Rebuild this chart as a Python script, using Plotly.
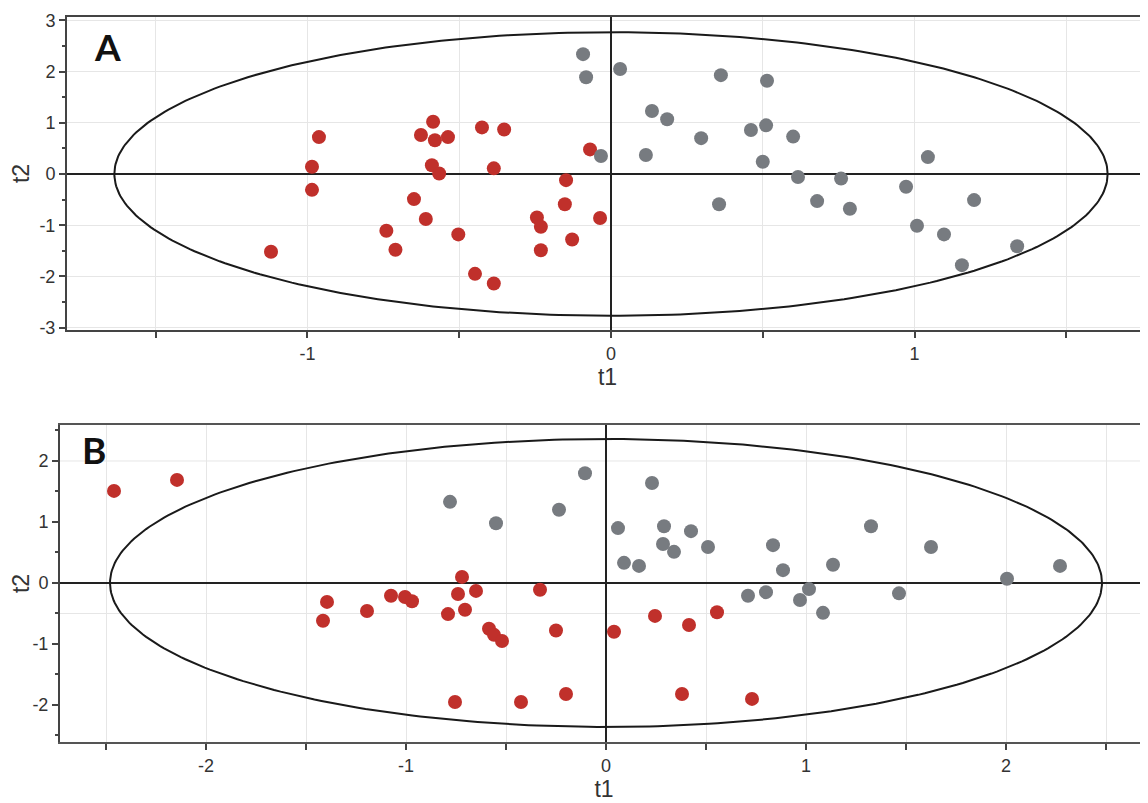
import numpy as np
import plotly.graph_objects as go

# ---------------- Data ----------------
# Panel A
a_red_t1 = [-0.962, -0.985, -0.985, -0.74, -0.71, -1.12, -0.586, -0.626, -0.58, -0.537,
            -0.425, -0.352, -0.069, -0.59, -0.566, -0.386, -0.148, -0.649, -0.61, -0.503,
            -0.152, -0.244, -0.231, -0.036, -0.128, -0.231, -0.448, -0.386]
a_red_t2 = [0.72, 0.14, -0.31, -1.11, -1.48, -1.52, 1.02, 0.76, 0.66, 0.72,
            0.91, 0.87, 0.48, 0.17, 0.01, 0.11, -0.12, -0.49, -0.88, -1.18,
            -0.59, -0.85, -1.03, -0.86, -1.28, -1.49, -1.95, -2.14]
a_gray_t1 = [-0.092, -0.082, 0.03, -0.033, 0.135, 0.185, 0.115, 0.297, 0.362, 0.356,
             0.461, 0.511, 0.514, 0.50, 0.60, 0.616, 0.758, 0.679, 0.787, 0.972,
             1.044, 1.008, 1.097, 1.196, 1.156, 1.338]
a_gray_t2 = [2.34, 1.89, 2.05, 0.35, 1.23, 1.07, 0.37, 0.70, 1.93, -0.59,
             0.86, 0.95, 1.82, 0.24, 0.73, -0.06, -0.09, -0.53, -0.68, -0.25,
             0.33, -1.01, -1.18, -0.51, -1.78, -1.41]
a_ellipse = (1.636, 2.77)   # semi-axes of the confidence ellipse (t1, t2)

# Panel B
b_red_t1 = [-2.46, -2.145, -1.395, -1.415, -1.195, -1.075, -1.005, -0.97, -0.72, -0.74,
            -0.65, -0.79, -0.705, -0.585, -0.56, -0.52, -0.33, -0.25, 0.04, 0.245,
            0.415, 0.555, -0.755, -0.425, -0.20, 0.38, 0.73]
b_red_t2 = [1.51, 1.69, -0.31, -0.62, -0.46, -0.21, -0.23, -0.30, 0.10, -0.18,
            -0.13, -0.51, -0.44, -0.75, -0.85, -0.95, -0.11, -0.78, -0.80, -0.54,
            -0.69, -0.48, -1.95, -1.95, -1.82, -1.82, -1.90]
b_gray_t1 = [-0.78, -0.55, -0.235, -0.105, 0.23, 0.06, 0.29, 0.425, 0.285, 0.34,
             0.51, 0.09, 0.165, 0.835, 0.885, 0.71, 0.80, 0.97, 1.015, 1.085,
             1.135, 1.325, 1.465, 1.625, 2.005, 2.27]
b_gray_t2 = [1.33, 0.98, 1.20, 1.80, 1.64, 0.90, 0.93, 0.85, 0.64, 0.51,
             0.59, 0.33, 0.28, 0.62, 0.21, -0.21, -0.15, -0.28, -0.10, -0.49,
             0.30, 0.93, -0.17, 0.59, 0.07, 0.28]
b_ellipse = (2.48, 2.36)

a_xticks = [-1.5, -1.0, -0.5, 0.0, 0.5, 1.0, 1.5]
a_xlabels = ["", "-1", "", "0", "", "1", ""]
a_yticks = [-3, -2, -1, 0, 1, 2, 3]
a_ylabels = ["-3", "-2", "-1", "0", "1", "2", "3"]
b_xticks = [-2.5, -2.0, -1.5, -1.0, -0.5, 0.0, 0.5, 1.0, 1.5, 2.0, 2.5]
b_xlabels = ["", "-2", "", "-1", "", "0", "", "1", "", "2", ""]
b_yticks = [-2, -1, 0, 1, 2]
b_ylabels = ["-2", "-1", "0", "1", "2"]
b_ygrid = [2.0, -0.5]

RED = "#C0302B"
GRAY = "#777B80"
FONT = "Liberation Sans, Arial, sans-serif"

# page has an 8px body margin -> figure is 1140x795 drawn at (8, 8)
W, H = 1140, 795

fig = go.Figure()

def ellipse(ab):
    th = np.linspace(0, 2 * np.pi, 361)
    return ab[0] * np.cos(th), ab[1] * np.sin(th)

ex, ey = ellipse(a_ellipse)
fig.add_trace(go.Scatter(x=ex, y=ey, mode="lines", line=dict(color="#1a1a1a", width=2),
                         xaxis="x", yaxis="y", hoverinfo="skip"))
fig.add_trace(go.Scatter(x=a_red_t1, y=a_red_t2, mode="markers",
                         marker=dict(color=RED, size=14), xaxis="x", yaxis="y"))
fig.add_trace(go.Scatter(x=a_gray_t1, y=a_gray_t2, mode="markers",
                         marker=dict(color=GRAY, size=14), xaxis="x", yaxis="y"))

ex, ey = ellipse(b_ellipse)
fig.add_trace(go.Scatter(x=ex, y=ey, mode="lines", line=dict(color="#1a1a1a", width=2),
                         xaxis="x2", yaxis="y2", hoverinfo="skip"))
fig.add_trace(go.Scatter(x=b_red_t1, y=b_red_t2, mode="markers",
                         marker=dict(color=RED, size=14), xaxis="x2", yaxis="y2"))
fig.add_trace(go.Scatter(x=b_gray_t1, y=b_gray_t2, mode="markers",
                         marker=dict(color=GRAY, size=14), xaxis="x2", yaxis="y2"))

for gy in b_ygrid:
    fig.add_shape(type="line", xref="x2 domain", yref="y2", x0=0, x1=1, y0=gy, y1=gy,
                  line=dict(color="#e6e6e6", width=1), layer="below")

tickfont = dict(family=FONT, size=18, color="#333333")
titlefont = dict(family=FONT, size=23, color="#333333")

common_x = dict(showline=True, linecolor="#444444", linewidth=2, mirror=True,
                ticks="outside", ticklen=6, tickcolor="#444444", tickwidth=1.5,
                gridcolor="#e6e6e6", gridwidth=1, showgrid=True,
                zeroline=True, zerolinecolor="#222222", zerolinewidth=2,
                tickfont=tickfont, automargin=False, fixedrange=True)
common_y = dict(showline=True, linecolor="#444444", linewidth=2, mirror=False,
                ticks="outside", ticklen=6, tickcolor="#444444", tickwidth=1.5,
                zeroline=True, zerolinecolor="#222222", zerolinewidth=2,
                tickfont=tickfont, automargin=False, fixedrange=True,
                minor=dict(dtick=0.5, ticks="outside", ticklen=3, tickcolor="#444444", showgrid=False))

fig.update_layout(
    width=W, height=H,
    margin=dict(l=0, r=0, t=0, b=0),
    paper_bgcolor="white", plot_bgcolor="white",
    showlegend=False,
    xaxis=dict(common_x, domain=[59 / W, 1], range=[-1.792, 1.769],
               tickvals=a_xticks, ticktext=a_xlabels,
               title=dict(text="t1", font=titlefont, standoff=0), anchor="y"),
    yaxis=dict(common_y, domain=[1 - 322 / H, 1 - 9 / H], range=[-3.047, 3.066],
               tickvals=a_yticks, ticktext=a_ylabels, showgrid=True, gridcolor="#e6e6e6",
               title=dict(text="t2", font=titlefont, standoff=4), anchor="x"),
    xaxis2=dict(common_x, domain=[52 / W, 1], range=[-2.73, 2.71],
                tickvals=b_xticks, ticktext=b_xlabels, linecolor="#555555",
                title=dict(text="t1", font=titlefont, standoff=0), anchor="y2"),
    yaxis2=dict(common_y, domain=[1 - 734 / H, 1 - 417 / H], range=[-2.607, 2.59],
                tickvals=b_yticks, ticktext=b_ylabels, showgrid=False,
                title=dict(text="t2", font=titlefont, standoff=4), anchor="x2"),
    annotations=[
        dict(text="<b>A</b>", xref="paper", yref="paper", x=99.5 / W, y=1 - 39 / H,
             xanchor="center", yanchor="middle", showarrow=False,
             font=dict(family="Lato, sans-serif", size=37, color="#111111")),
        dict(text="<b>B</b>", xref="paper", yref="paper", x=85.5 / W, y=1 - 441 / H,
             xanchor="center", yanchor="middle", showarrow=False,
             font=dict(family="Lato, sans-serif", size=37, color="#111111")),
    ],
)

fig.write_html("out.html")
